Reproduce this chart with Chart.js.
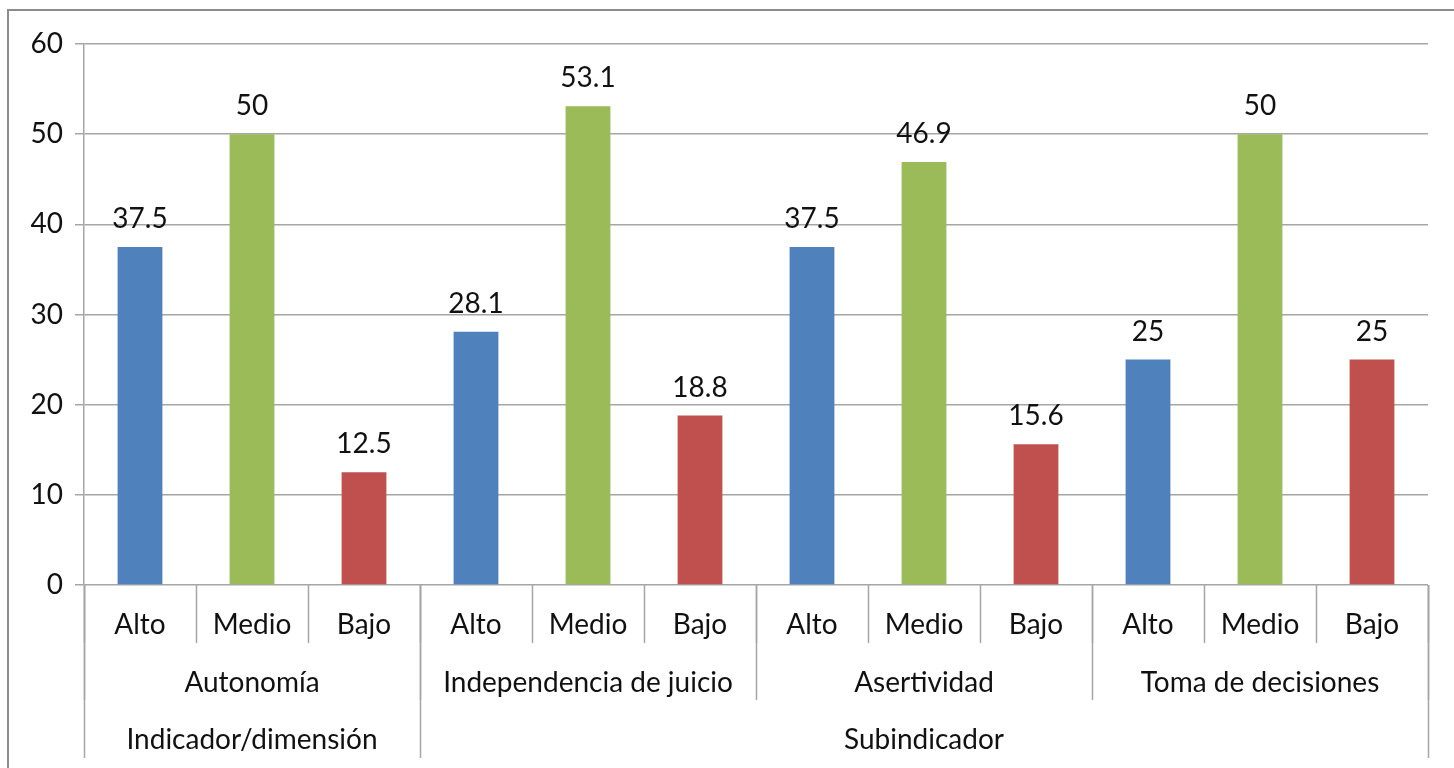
<!DOCTYPE html>
<html><head><meta charset="utf-8">
<script src="https://cdn.jsdelivr.net/npm/chart.js@4.4.1/dist/chart.umd.min.js"></script>
<style>
html,body{margin:0;padding:0;background:#fff;overflow:hidden}
#frame{position:absolute;left:7px;top:9px;width:1500px;height:800px;border:2px solid #8c8c8c;box-sizing:border-box}
#wrap{position:absolute;left:0;top:0;width:1454px;height:768px}
</style></head><body>
<div id="frame"></div>
<div id="wrap"><canvas id="c" width="1454" height="768"></canvas></div>
<script>
const levels = ['Alto','Medio','Bajo','Alto','Medio','Bajo','Alto','Medio','Bajo','Alto','Medio','Bajo'];
const values = [37.5, 50, 12.5, 28.1, 53.1, 18.8, 37.5, 46.9, 15.6, 25, 50, 25];
const subgroups = ['Autonomía','Independencia de juicio','Asertividad','Toma de decisiones'];
const subgroupSpans = [3, 3, 3, 3];
const topGroups = ['Indicador/dimensión','Subindicador'];
const topGroupSpans = [3, 9];
const yTicks = [0, 10, 20, 30, 40, 50, 60];
const levelColors = {Alto:'#4F81BD', Medio:'#9BBB59', Bajo:'#C0504D'};

const FONT = 'Lato';
const FS = 28;
const GRID = '#A6A6A6';

const groupPlugin = {
  id:'groups',
  afterDraw(chart){
    const ctx = chart.ctx, x = chart.scales.x, y = chart.scales.y;
    const n = levels.length;
    const step = x.getPixelForValue(1) - x.getPixelForValue(0);
    const bnd = k => x.getPixelForValue(0) - step/2 + k*step;
    const y0 = y.getPixelForValue(0);
    ctx.save();
    ctx.strokeStyle = GRID; ctx.lineWidth = 1.5;
    const line = (px, y1, y2) => { ctx.beginPath(); ctx.moveTo(Math.round(px)+0.5, y1); ctx.lineTo(Math.round(px)+0.5, y2); ctx.stroke(); };
    for (let k=0;k<=n;k++) line(bnd(k), y0, y0+58);
    let k=0;
    const subB=[0]; subgroupSpans.forEach(s=>{k+=s; subB.push(k);});
    subB.forEach(b=>line(bnd(b), y0, y0+115));
    k=0; const topB=[0]; topGroupSpans.forEach(s=>{k+=s; topB.push(k);});
    topB.forEach(b=>line(bnd(b), y0, y0+173));
    ctx.fillStyle = '#111';
    ctx.font = FS+'px '+FONT;
    ctx.textAlign='center'; ctx.textBaseline='middle';
    subgroups.forEach((g,i)=>{ ctx.fillText(g, (bnd(subB[i])+bnd(subB[i+1]))/2, y0+98); });
    topGroups.forEach((g,i)=>{ ctx.fillText(g, (bnd(topB[i])+bnd(topB[i+1]))/2, y0+155); });
    const meta = chart.getDatasetMeta(0);
    meta.data.forEach((bar,i)=>{ ctx.fillText(String(values[i]), bar.x, bar.y-28); });
    ctx.restore();
  }
};

new Chart(document.getElementById('c'), {
  type:'bar',
  data:{ labels: levels, datasets:[{ data: values, backgroundColor: levels.map(l=>levelColors[l]), barPercentage:0.4, categoryPercentage:1 }]},
  options:{
    responsive:false, animation:false, devicePixelRatio:1,
    layout:{ padding:{ top:44, right:26, bottom:0, left:0 } },
    plugins:{ legend:{display:false}, tooltip:{enabled:false} },
    scales:{
      x:{ grid:{ drawOnChartArea:false, drawTicks:false }, border:{display:false},
          ticks:{ font:{family:FONT,size:FS}, color:'#111', padding:23, maxRotation:0, autoSkip:false },
          afterFit(s){ s.height = 183; } },
      y:{ min:0, max:60, afterBuildTicks(s){ s.ticks = yTicks.map(v=>({value:v})); },
          grid:{ color:GRID, lineWidth:1.5, tickLength:9 }, border:{ color:GRID, width:1.5 },
          ticks:{ font:{family:FONT,size:FS}, color:'#111', padding:12 },
          afterFit(s){ s.width = 84; } }
    }
  },
  plugins:[groupPlugin]
});
</script>
</body></html>
